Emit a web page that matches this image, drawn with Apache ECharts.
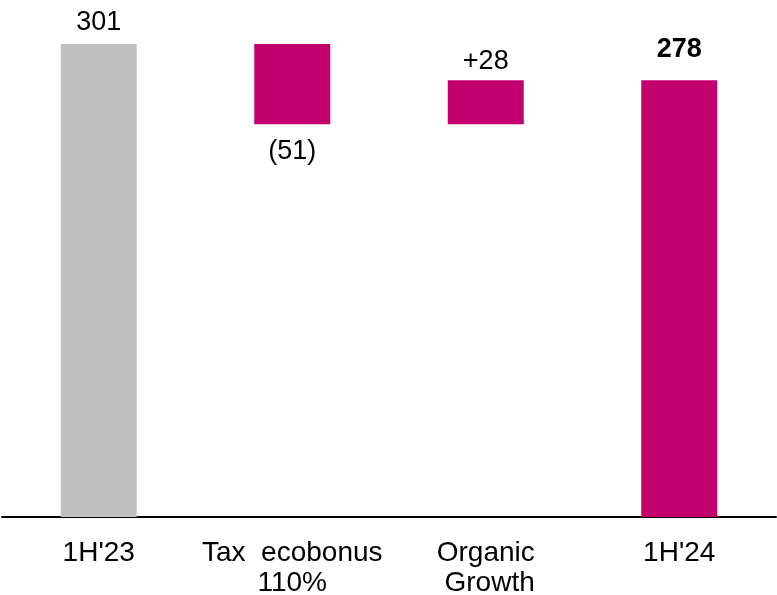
<!DOCTYPE html>
<html>
<head>
<meta charset="utf-8">
<style>
  html, body { margin: 0; padding: 0; background: #ffffff; }
  #chart { width: 777px; height: 595px; }
</style>
<script src="https://cdn.jsdelivr.net/npm/echarts@6/dist/echarts.min.js"></script>
</head>
<body>
<div id="chart"></div>
<script>
// Bridge from 1H'23 to 1H'24
const categories = ["1H'23", "Tax  ecobonus\n110%", "Organic\n Growth", "1H'24"];
const startValue = 301;
const deltas = [-51, 28];
const endValue = 278;

const GREY = '#BFBFBF';
const MAGENTA = '#C2006E';
const FONT = '"Liberation Sans", Arial, sans-serif';

// Build invisible offsets and visible bar heights for the waterfall
const offsets = [0];
const heights = [startValue];
let running = startValue;
deltas.forEach(d => {
  const next = running + d;
  offsets.push(Math.min(running, next));
  heights.push(Math.abs(d));
  running = next;
});
offsets.push(0);
heights.push(endValue);

const labelTexts = [
  String(startValue),
  ...deltas.map(d => d < 0 ? '(' + Math.abs(d) + ')' : '+' + d),
  String(endValue)
];

const visibleData = heights.map((h, i) => {
  const isStart = i === 0;
  const isEnd = i === heights.length - 1;
  const isNeg = !isStart && !isEnd && deltas[i - 1] < 0;
  let distance = 8;
  if (isEnd) distance = 17;
  if (!isStart && !isEnd && !isNeg) distance = 5;
  if (isNeg) distance = 14;
  return {
    value: h,
    itemStyle: { color: isStart ? GREY : MAGENTA },
    label: {
      show: true,
      position: isNeg ? 'bottom' : 'top',
      distance: distance,
      formatter: labelTexts[i],
      fontWeight: isEnd ? 'bold' : 'normal'
    }
  };
});

const chart = echarts.init(document.getElementById('chart'), null, { renderer: 'canvas' });
chart.setOption({
  animation: false,
  backgroundColor: '#ffffff',
  grid: { left: 2, right: 1, top: 44, bottom: 78, containLabel: false, outerBoundsMode: 'none' },
  xAxis: {
    type: 'category',
    data: categories,
    axisLine: { show: true, lineStyle: { color: '#000000', width: 2 } },
    axisTick: { show: false },
    axisLabel: {
      color: '#000000',
      fontFamily: FONT,
      fontSize: 28,
      lineHeight: 30,
      margin: 21,
      interval: 0
    }
  },
  yAxis: {
    type: 'value',
    min: 0,
    max: startValue,
    show: false,
    splitLine: { show: false }
  },
  series: [
    {
      type: 'bar',
      stack: 'bridge',
      data: offsets,
      barWidth: 76,
      itemStyle: { color: 'rgba(0,0,0,0)' },
      emphasis: { disabled: true },
      silent: true
    },
    {
      type: 'bar',
      stack: 'bridge',
      data: visibleData,
      barWidth: 76,
      label: {
        color: '#000000',
        fontFamily: FONT,
        fontSize: 27
      }
    }
  ]
});
</script>
</body>
</html>
